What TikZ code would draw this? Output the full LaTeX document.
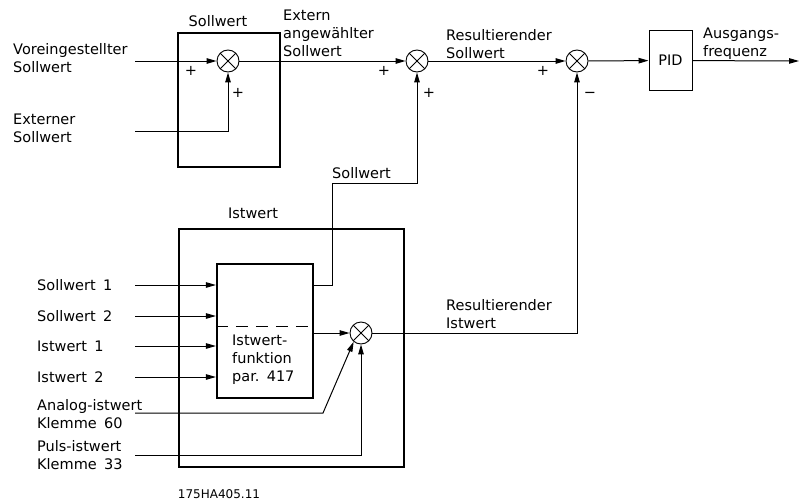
\documentclass[tikz,border=0pt]{standalone}
\usepackage{fontspec}
\setmainfont{DejaVu Sans}
\usetikzlibrary{arrows.meta}

\tikzset{
  sig/.style={line width=1pt, -{Triangle[length=10pt,width=5.5pt]}},
  wire/.style={line width=1pt},
  frame/.style={draw, line width=2.2pt, inner sep=0},
  sumnode/.style={circle, draw, line width=0.9pt, minimum size=22pt, inner sep=0,
    path picture={\draw[line width=0.9pt]
      (path picture bounding box.north west) -- (path picture bounding box.south east)
      (path picture bounding box.north east) -- (path picture bounding box.south west);}},
  lbl/.style={align=left, anchor=west, inner sep=0},
  sign/.style={inner sep=0},
}

\begin{document}
\begin{tikzpicture}[x=1pt, y=-1pt, font=\fontsize{14.5}{18}\selectfont]
  \useasboundingbox (0,0) rectangle (799,503);
  % Sollwert: preset + external setpoint
  \node[frame, minimum width=102pt, minimum height=134pt] (swbox) at (229,100) {};
  \node (swtitle) at (218,21) {Sollwert};
  \node[sumnode] (s1) at (228,61) {};
  \node[lbl] (labVor) at (13,58) {Voreingestellter\\Sollwert};
  \coordinate (inVor) at (135,61);
  \draw[sig] (inVor) -- (s1);
  \node[lbl] (labExt) at (13,128) {Externer\\Sollwert};
  \coordinate (inExt) at (135,131);
  \draw[sig] (inExt) -| (s1.south);
  \node[sign] (p1) at (191,71) {+};
  \node[sign] (p2) at (238,93) {+};

  % main chain to PID
  \node[sumnode] (s2) at (417,61) {};
  \node[sumnode] (s3) at (577,61) {};
  \node[draw, line width=1pt, minimum width=43pt, minimum height=59pt] (pid) at (670.5,60.5) {PID};
  \coordinate (out) at (799,61);
  \draw[sig] (s1) -- (s2);
  \draw[sig] (s2) -- (s3);
  \draw[sig] (s3) -- (pid);
  \draw[sig] (pid) -- (out);
  \node[lbl] (labExtAn) at (283,33) {Extern\\angewählter\\Sollwert};
  \node[lbl] (labResSw) at (446,44) {Resultierender\\Sollwert};
  \node[lbl] (labOut) at (703,44) {Ausgangs-\\frequenz};
  \node[sign] (p3) at (384,71) {+};
  \node[sign] (p4) at (429,93) {+};
  \node[sign] (p5) at (543,71) {+};
  \node[sign] (m1) at (590,95) {−};

  % Istwert block
  \node[frame, minimum width=225pt, minimum height=238pt] (iwbox) at (291.5,348) {};
  \node (iwtitle) at (253,213) {Istwert};
  \node[frame, minimum width=96pt, minimum height=134pt] (fn) at (265,331) {};
  \draw[wire, dash pattern=on 12pt off 8pt] (fn.west |- 0,326) -- (fn.east |- 0,326);
  \node[lbl] (fntext) at (232,360) {Istwert-\\funktion\\par.\enspace 417};
  \foreach \y/\t [count=\i] in {285/{Sollwert\enspace 1}, 316/{Sollwert\enspace 2},
                                346/{Istwert\enspace 1}, 377/{Istwert\enspace 2}} {
    \node[lbl] (lab\i) at (37,\y) {\t};
    \coordinate (in\i) at (135,\y);
    \draw[sig] (in\i) -- (in\i -| fn.west);
  }
  \node[sumnode] (s4) at (361,333) {};
  \draw[sig] (fn.east |- s4) -- (s4);

  % feedback paths
  \coordinate (swk) at (332,183);
  \draw[sig] (in1 -| fn.east) -| (swk) -| (s2.south);
  \node[lbl] (labSwFb) at (332,173) {Sollwert};
  \draw[sig] (s4) -| (s3.south);
  \node[lbl] (labResIst) at (446,314) {Resultierender\\Istwert};

  % analog and pulse inputs
  \node[lbl] (labAn) at (37,414) {Analog-istwert\\Klemme\enspace 60};
  \coordinate (inAn) at (135,413);
  \coordinate (knAn) at (323,413);
  \draw[sig] (inAn) -- (knAn) -- (s4.230);
  \node[lbl] (labPu) at (37,455) {Puls-istwert\\Klemme\enspace 33};
  \coordinate (inPu) at (135,455);
  \draw[sig] (inPu) -| (s4.south);

  \node[font=\fontsize{12}{14}\selectfont] (code) at (219,494) {175HA405.11};
\end{tikzpicture}
\end{document}
